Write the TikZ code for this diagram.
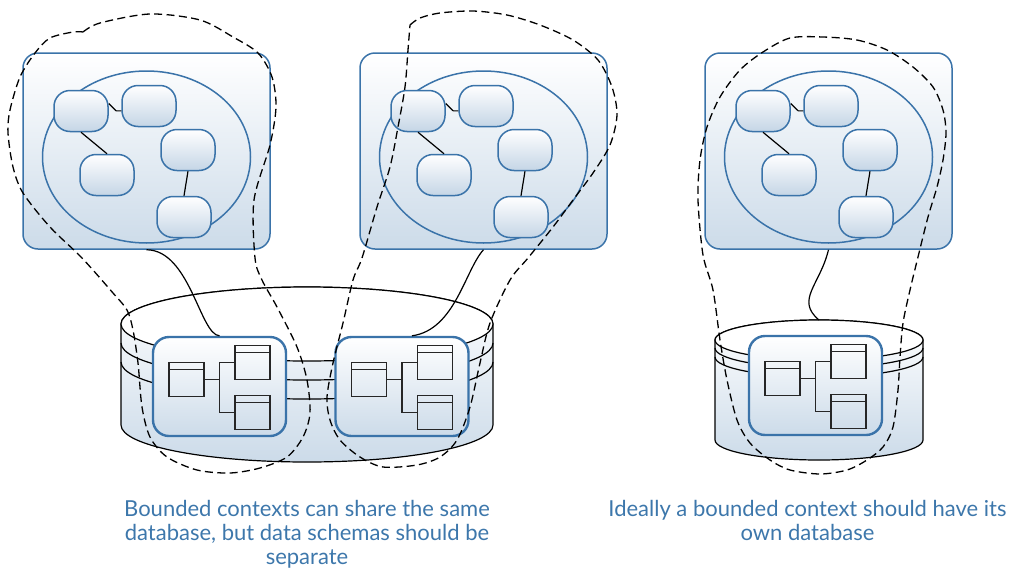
\documentclass[tikz,border=0pt]{standalone}
\usepackage{fontspec}
\setmainfont{Lato}
\usetikzlibrary{shapes.geometric, calc}
\definecolor{ctxLine}{HTML}{3A73A9}
\definecolor{ctxFill}{HTML}{CCDBE9}
\definecolor{capBlue}{HTML}{3D77AB}
\colorlet{inkDark}{black!85}

\begin{document}
\begin{tikzpicture}[x=0.5pt, y=-0.5pt,
  ctx/.style={draw=ctxLine, line width=0.75pt, rounded corners=7.5pt,
              top color=white, bottom color=ctxFill,
              minimum width=123.5pt, minimum height=98pt, inner sep=0pt},
  dom/.style={draw=ctxLine, line width=0.75pt, ellipse,
              minimum width=104pt, minimum height=86pt, inner sep=0pt},
  ent/.style={draw=ctxLine, line width=0.75pt, rounded corners=8pt,
              top color=white, bottom color=ctxFill!95!ctxLine,
              minimum width=27pt, minimum height=20.5pt, inner sep=0pt},
  schema/.style={draw=ctxLine, line width=1.2pt, rounded corners=8pt,
                 top color=white, bottom color=ctxFill,
                 minimum width=66.5pt, minimum height=49.5pt, inner sep=0pt},
  tbl/.style={draw=inkDark, line width=0.9pt, minimum width=17.5pt,
              minimum height=17pt, inner sep=0pt,
              path picture={\draw[inkDark, line width=0.9pt]
                ([yshift=-3.5pt]path picture bounding box.north west) --
                ([yshift=-3.5pt]path picture bounding box.north east);}},
  link/.style={draw=black, line width=0.6pt},
  bound/.style={draw=black, line width=0.65pt, dash pattern=on 4pt off 2.2pt},
  dbbody/.style={draw=black, line width=0.6pt, top color=white, bottom color=ctxFill},
  caption/.style={text=capBlue, font=\fontsize{11}{12}\selectfont,
                  align=center, inner sep=0pt},
]
  \useasboundingbox (0,0) rectangle (1012,568);

  % bounded contexts
  \foreach \p/\cx in {a/146.5, b/483.5, c/828.5} {
    \node[ctx] (\p) at (\cx,151) {};
    \node[dom] (\p-dom) at (\cx,157) {};
    \node[ent] (\p-1) at (\cx-65.5,111) {};
    \node[ent] (\p-2) at (\cx+2.5,106) {};
    \node[ent] (\p-3) at (\cx+41.5,150) {};
    \node[ent] (\p-4) at (\cx-39.5,175) {};
    \node[ent] (\p-5) at (\cx+37.5,217) {};
    \draw[link] (\p-1.15) -- ([xshift=-2.5pt]\p-2.190) -- (\p-2.190);
    \draw[link] (\p-1.south) -- (\p-4.north);
    \draw[link] (\p-3.south) -- (\p-5.north);
  }

  % shared database
  \draw[dbbody] (121,324) -- (121,425)
    arc[start angle=180, end angle=360, x radius=93pt, y radius=18.5pt] -- (493,324)
    arc[start angle=0, end angle=180, x radius=93pt, y radius=18.5pt] -- cycle;
  \draw[link, fill=white] (307,324) ellipse[x radius=93pt, y radius=18.5pt];
  \draw[link] (121,343) arc[start angle=180, end angle=360, x radius=93pt, y radius=18.5pt];
  \draw[link] (121,362) arc[start angle=180, end angle=360, x radius=93pt, y radius=18.5pt];

  % own database
  \draw[dbbody] (715,340) -- (715,440)
    arc[start angle=180, end angle=360, x radius=52pt, y radius=10pt] -- (923,340)
    arc[start angle=0, end angle=180, x radius=52pt, y radius=10pt] -- cycle;
  \draw[link, fill=white] (819,340) ellipse[x radius=52pt, y radius=10pt];
  \draw[link] (715,348) arc[start angle=180, end angle=360, x radius=52pt, y radius=10pt];
  \draw[link] (715,357) arc[start angle=180, end angle=360, x radius=52pt, y radius=10pt];
  \coordinate (c-dbtop) at (819,320);

  % schemas
  \node[schema] (a-db) at (219.5,386.5) {};
  \node[schema] (b-db) at (402,386.5) {};
  \node[schema] (c-db) at (815.5,385.5) {};
  \foreach \s in {a,b,c} {
    \node[tbl] (\s-t1) at ($(\s-db)+(-33,-7)$) {};
    \node[tbl] (\s-t2) at ($(\s-db)+(33,-24)$) {};
    \node[tbl] (\s-t3) at ($(\s-db)+(33,26)$) {};
    \draw[link, inkDark] (\s-t1.east) -- (\s-t1.east -| \s-db.center);
    \draw[link, inkDark] (\s-t2.west) -| (\s-db.center) |- (\s-t3.west);
  }

  % context to database
  \draw[link] (a.south) .. controls (190,250) and (200,335) .. (a-db.north);
  \draw[link] (b.south) .. controls (465,270) and (455,330) .. ([xshift=5pt]b-db.north);
  \draw[link] (c.south) .. controls (820,285) and (795,300) .. (c-dbtop);

  % boundaries
  \draw[bound] plot[smooth, tension=0.5] coordinates {(83,32) (100,23) (150,14)
    (200,20) (233,37) (258,53) (272,77) (276,107) (270,145) (254,200) (255,258)
    (262,280) (277,307) (297,347) (307,380) (310,413) (303,437) (287,457) (260,468)
    (230,473) (197,470) (167,457) (150,437) (142,407) (138,363) (133,330) (127,310)
    (113,293) (82,258) (50,227) (23,193) (13,167) (8,133) (10,110) (20,77) (35,53)
    (50,38) (73,32) (83,32)};
  \draw[bound] plot[smooth, tension=0.5] coordinates {(410,25) (420,18) (440,13)
    (473,11) (507,15) (540,25) (573,40) (598,60) (612,87) (617,115) (610,145)
    (593,173) (573,200) (553,227) (528,258) (510,280) (490,323) (480,363) (470,407)
    (457,440) (440,457) (417,465) (383,467) (360,457) (340,440) (330,420) (327,397)
    (333,363) (343,323) (353,280) (362,258) (377,207) (390,167) (398,127) (405,87)
    (408,50) (410,25)};
  \draw[bound] plot[smooth cycle, tension=0.5] coordinates {(823,37) (857,40) (887,50)
    (913,67) (933,87) (943,110) (946,133) (943,160) (937,187) (928,217) (918,257)
    (910,290) (903,323) (900,357) (898,390) (893,427) (883,447) (867,460) (847,470)
    (820,474) (790,470) (770,460) (750,443) (737,420) (727,380) (720,340) (713,290)
    (703,255) (698,200) (700,160) (707,127) (720,97) (740,70) (763,52) (790,38)};

  % captions
  \node[caption, anchor=north] (cap-shared) at (307,500)
    {Bounded contexts can share the same\\database, but data schemas should be\\separate};
  \node[caption, anchor=north] (cap-own) at (807.5,500)
    {Ideally a bounded context should have its\\own database};
\end{tikzpicture}
\end{document}
